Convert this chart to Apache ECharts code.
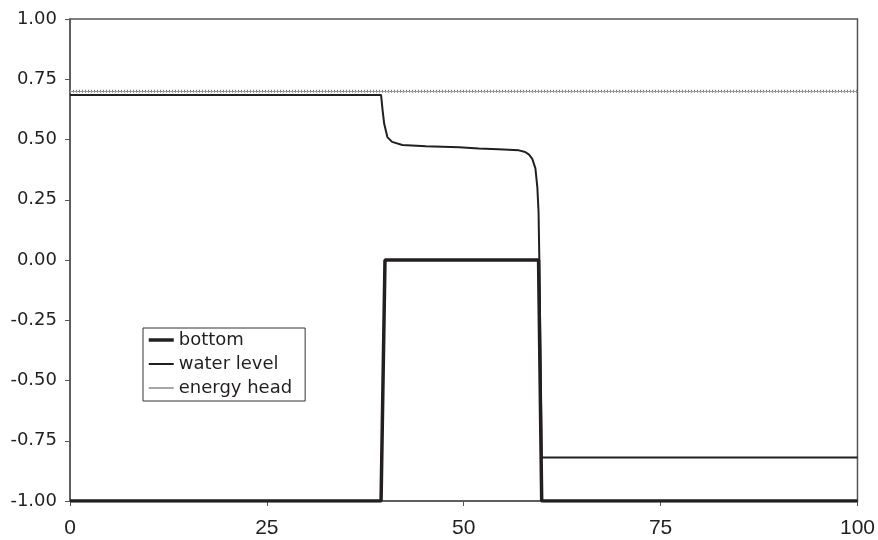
<!DOCTYPE html>
<html>
<head>
<meta charset="utf-8">
<script src="https://cdn.jsdelivr.net/npm/echarts@6/dist/echarts.min.js"></script>
<style>
  html, body { margin: 0; padding: 0; background: #fff; }
  #chart { width: 878px; height: 540px; }
</style>
</head>
<body>
<div id="chart"></div>
<script>
// x positions / values
const bottomX = [0, 39.5, 40.0, 59.5, 59.9, 100]
const bottomY = [-1, -1, 0, 0, -1, -1]

const waterX = [0, 39.5, 39.7, 39.9, 40.3, 40.9, 42.2, 45.2, 49.4, 51.9, 54.4, 57.0, 57.8, 58.3, 58.7, 59.1, 59.35, 59.5, 59.6, 59.9, 100]
const waterY = [0.685, 0.685, 0.62, 0.565, 0.51, 0.49, 0.477, 0.472, 0.468, 0.463, 0.46, 0.455, 0.448, 0.437, 0.42, 0.38, 0.3, 0.2, 0.0, -0.82, -0.82]

const energyX = [0, 100]
const energyY = [0.70, 0.70]

const seriesNames = ['bottom', 'water level', 'energy head']

const pairs = (xs, ys) => xs.map((x, i) => [x, ys[i]])

const chart = echarts.init(document.getElementById('chart'))

const axisColor = '#555'
const hideSymbol = { opacity: 0 }

const option = {
  animation: false,
  grid: {
    left: 70,
    right: 18,
    top: 19,
    bottom: 39,
    show: true,
    borderColor: axisColor,
    borderWidth: 1.5,
  },
  legend: {
    orient: 'vertical',
    left: 143,
    top: 328,
    padding: [3, 13, 4, 4],
    itemWidth: 25,
    itemHeight: 14,
    itemGap: 6,
    borderColor: '#333',
    borderWidth: 1,
    backgroundColor: '#fff',
    textStyle: {
      fontFamily: 'DejaVu Sans',
      fontSize: 18,
      color: '#231f20',
    },
    data: [
      { name: 'bottom', itemStyle: hideSymbol, lineStyle: { width: 3.5, color: '#231f20' } },
      { name: 'water level', itemStyle: hideSymbol, lineStyle: { width: 2, color: '#231f20' } },
      { name: 'energy head', itemStyle: hideSymbol, lineStyle: { type: 'solid', width: 1.5, color: '#888' } },
    ],
  },
  xAxis: {
    type: 'value',
    min: 0,
    max: 100,
    interval: 25,
    splitLine: { show: false },
    axisLine: { onZero: false, lineStyle: { color: axisColor, width: 1.5 } },
    axisTick: { length: 5, lineStyle: { color: axisColor } },
    axisLabel: {
      margin: 17,
      color: '#231f20',
      fontFamily: 'Liberation Sans',
      fontSize: 21,
    },
  },
  yAxis: {
    type: 'value',
    min: -1,
    max: 1,
    interval: 0.25,
    splitLine: { show: false },
    axisLine: { show: true, onZero: false, lineStyle: { color: axisColor, width: 1.5 } },
    axisTick: { show: true, length: 5, lineStyle: { color: axisColor } },
    axisLabel: {
      margin: 13,
      color: '#231f20',
      fontFamily: 'DejaVu Sans',
      fontSize: 18,
      formatter: (v) => v.toFixed(2),
    },
  },
  series: [
    {
      name: seriesNames[0],
      type: 'line',
      data: pairs(bottomX, bottomY),
      symbol: 'none',
      z: 3,
      lineStyle: { color: '#231f20', width: 3.5 },
      itemStyle: { color: '#231f20' },
    },
    {
      name: seriesNames[1],
      type: 'line',
      data: pairs(waterX, waterY),
      symbol: 'none',
      z: 2,
      lineStyle: { color: '#231f20', width: 2 },
      itemStyle: { color: '#231f20' },
    },
    {
      name: seriesNames[2],
      type: 'line',
      data: pairs(energyX, energyY),
      symbol: 'none',
      z: 1,
      lineStyle: { color: '#777', width: 3, type: [1, 2] },
      itemStyle: { color: '#777' },
      markLine: {
        silent: true,
        symbol: 'none',
        label: { show: false },
        lineStyle: { type: 'solid', color: '#999', width: 1 },
        data: [{ yAxis: energyY[0] }],
      },
    },
  ],
}

chart.setOption(option)
</script>
</body>
</html>
